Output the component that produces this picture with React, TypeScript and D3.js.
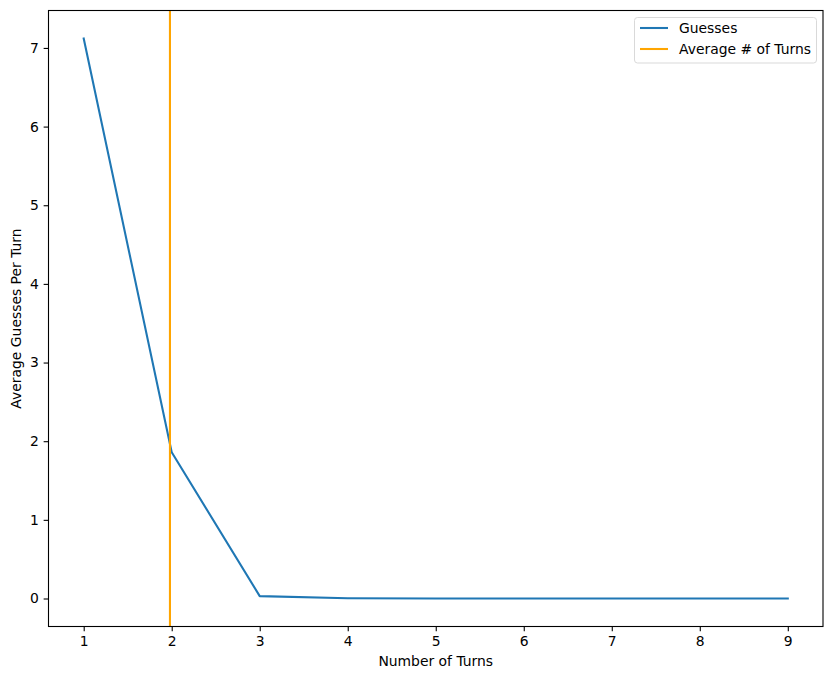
import { useEffect, useRef } from 'react'
import * as d3 from 'd3'

const W = 833
const H = 679

const turns = [1, 2, 3, 4, 5, 6, 7, 8, 9]
const guesses = [7.12, 1.86, 0.03, 0.003, 0, 0, 0, 0, 0]
const averageTurns = 1.98
const xTicks = [1, 2, 3, 4, 5, 6, 7, 8, 9]
const yTicks = [0, 1, 2, 3, 4, 5, 6, 7]
const legendLabels = ['Guesses', 'Average # of Turns']

const BLUE = '#1f77b4'
const ORANGE = 'orange'
const FONT = 'DejaVu Sans, sans-serif'

export default function App() {
  const svgRef = useRef<SVGSVGElement>(null)

  useEffect(() => {
    document.body.style.margin = '0'
    if (!svgRef.current) return
    const svg = d3.select(svgRef.current)
    svg.selectAll('*').remove()

    const left = 48.5
    const right = 823
    const top = 10.5
    const bottom = 626.5

    const x = d3.scaleLinear().domain([0.6, 9.4]).range([left, right])
    const yMax = d3.max(guesses) as number
    const pad = yMax * 0.05
    const y = d3.scaleLinear().domain([-pad, yMax + pad]).range([bottom, top])

    svg.append('rect').attr('width', W).attr('height', H).attr('fill', 'white')

    const line = d3.line<number>()
      .x((_, i) => x(turns[i]))
      .y((d) => y(d))

    const plot = svg.append('g')
    plot.append('path')
      .datum(guesses)
      .attr('d', line)
      .attr('fill', 'none')
      .attr('stroke', BLUE)
      .attr('stroke-width', 2.08)
      .attr('stroke-linejoin', 'round')
      .attr('stroke-linecap', 'square')

    plot.append('line')
      .attr('x1', x(averageTurns)).attr('x2', x(averageTurns))
      .attr('y1', top).attr('y2', bottom)
      .attr('stroke', ORANGE)
      .attr('stroke-width', 2.08)

    // axes
    const xAxis = d3.axisBottom(x).tickValues(xTicks).tickFormat(d3.format('d')).tickSize(4.86).tickPadding(4.86)
    const yAxis = d3.axisLeft(y).tickValues(yTicks).tickFormat(d3.format('d')).tickSize(4.86).tickPadding(4.86)

    const gx = svg.append('g').attr('transform', `translate(0,${bottom})`).call(xAxis)
    const gy = svg.append('g').attr('transform', `translate(${left},0)`).call(yAxis)
    for (const g of [gx, gy]) {
      g.select('.domain').remove()
      g.selectAll('line').attr('stroke', 'black').attr('stroke-width', 1.1)
      g.selectAll('text').attr('fill', 'black').style('font-family', FONT).style('font-size', '13.9px')
    }

    svg.append('rect')
      .attr('x', left).attr('y', top)
      .attr('width', right - left).attr('height', bottom - top)
      .attr('fill', 'none').attr('stroke', 'black').attr('stroke-width', 1.1)

    svg.append('text')
      .attr('x', (left + right) / 2).attr('y', 666)
      .attr('text-anchor', 'middle')
      .style('font-family', FONT).style('font-size', '13.9px')
      .text('Number of Turns')

    svg.append('text')
      .attr('transform', `translate(21,${(top + bottom) / 2}) rotate(-90)`)
      .attr('text-anchor', 'middle')
      .style('font-family', FONT).style('font-size', '13.9px')
      .text('Average Guesses Per Turn')

    // legend
    const lg = svg.append('g')
    lg.append('rect')
      .attr('x', 634.5).attr('y', 17.5).attr('width', 182).attr('height', 45.5)
      .attr('rx', 3).attr('fill', 'white').attr('fill-opacity', 0.8)
      .attr('stroke', '#d9d9d9').attr('stroke-width', 1)
    legendLabels.forEach((label, i) => {
      const cy = 28 + i * 21
      lg.append('line')
        .attr('x1', 640).attr('x2', 668).attr('y1', cy).attr('y2', cy)
        .attr('stroke', i === 0 ? BLUE : ORANGE).attr('stroke-width', 2.08)
      lg.append('text')
        .attr('x', 679).attr('y', cy + 5)
        .style('font-family', FONT).style('font-size', '13.9px')
        .text(label)
    })
  }, [])

  return (
    <div style={{ position: 'absolute', left: 0, top: 0 }}>
      <svg ref={svgRef} width={W} height={H} style={{ display: 'block' }} />
    </div>
  )
}
